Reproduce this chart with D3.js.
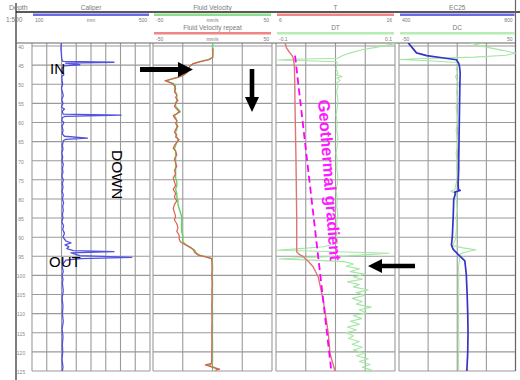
<!DOCTYPE html>
<html>
<head>
<meta charset="utf-8">
<script src="https://cdn.jsdelivr.net/npm/d3@7"></script>
<style>
  html, body { margin: 0; padding: 0; background: #fff; }
  svg { display: block; font-family: "Liberation Sans", Arial, Helvetica, sans-serif; }
</style>
</head>
<body>
<svg id="chart" width="520" height="380"></svg>
<script>
// ---- depth grid ----
const depthTicks = [40, 45, 50, 55, 60, 65, 70, 75, 80, 85, 90, 95, 100, 105, 110, 115, 120, 125];

// ---- header text ----
const titlesRow1 = ["Caliper", "Fluid Velocity", "T", "EC25"];
const titlesRow2 = ["", "Fluid Velocity repeat", "DT", "DC"];
const scaleRow1 = [["100", "mm", "500"], ["-50", "mm/s", "50"], ["6", "", "16"], ["400", "", "800"]];
const scaleRow2 = [null, ["-50", "mm/s", "50"], ["-0.1", "", "0.1"], ["-50", "", "50"]];

// ---- curves: [depth m, value] ----
const caliper = [
  [39.2,199],[40.8,198],[41.5,199],[42.5,200],[43.5,201],[44.0,205],[44.25,378],[44.5,214],[44.9,262],[45.2,208],
  [46,201],[47,203],[47.5,208],[48,201],[49,202],[50,204],[51,200],[52,203],[53,206],[54,201],[55,205],[56,200],
  [56.5,210],[57,203],[57.8,205],[58.1,402],[58.4,212],[58.7,203],[59.5,201],[60,208],[61,202],[62,205],[63,203],
  [63.6,210],[64.1,288],[64.4,214],[64.8,206],[66,203],[67,205],[68,201],[69,204],[70,202],[71,206],[72,203],
  [73,205],[74,201],[75,206],[76,203],[77,205],[78,202],[79,206],[80,203],[81,207],[82,204],[83,206],[84,203],
  [85,205],[86,201],[87,207],[88,204],[89,210],[90,205],[91,215],[91.5,232],[92,212],[92.5,225],[93,218],
  [93.5,240],[93.8,378],[94.1,232],[94.8,262],[95.3,438],[95.6,266],[96,215],[97,205],[98,203],[99,206],[100,202],
  [101,205],[102,203],[104,206],[106,202],[108,205],[110,203],[112,206],[114,202],[116,205],[118,203],[120,204],
  [122,202],[124,205],[125,203]
];

const fluidVelocity = [
  [39.2,0.2],[41,0],[42,0.3],[43,0.1],[43.6,-4],[44.1,-11],[44.6,-16],[45.2,-19],[46,-20],[46.8,-22],[47.6,-25],
  [48.2,-30],[48.7,-35],[49.1,-39],[49.4,-37],[49.8,-33],[50.4,-31],[51.2,-32],[52,-31],[52.8,-30],[53.5,-30],
  [54.2,-30],[55,-31],[55.8,-31],[56.5,-29],[57.2,-27],[57.7,-30],[58.2,-32],[58.8,-31],[59.5,-30],[60.3,-30],
  [61,-30],[61.8,-30],[62.5,-31],[63.2,-31],[63.8,-30],[64.5,-29],[65.2,-30],[66,-31],[66.8,-32],[67.5,-31],
  [68.5,-31],[69.5,-31],[70.5,-31],[71.5,-31],[72.5,-31],[73.5,-31],[74.5,-31],[75.5,-30],[76.5,-30],[77.5,-31],
  [78.5,-30],[79.5,-30],[80.5,-29],[81.5,-29],[82.5,-28],[83.5,-27],[84.5,-26],[85.5,-26],[86.5,-26],[87.5,-26],
  [88.5,-26],[89.5,-25],[90.5,-25],[91.2,-25],[92,-22],[92.8,-18],[93.4,-15],[94,-14],[94.7,-11],[95.2,-4],
  [95.6,-0.5],[96.2,-0.2],[98,0],[100,-0.2],[102,0],[104,-0.1],[106,0],[108,-0.2],[110,0],[112,-0.1],[114,0],
  [116,-0.2],[118,0],[120,-0.1],[122,0],[123,-0.2],[123.5,-3],[124,1],[124.5,4],[125,2]
];

const fluidVelocityRepeat = [
  [40.6,0.5],[42,0.3],[43,0.2],[43.6,-3],[44.1,-10],[44.6,-16],[45.2,-19],[46,-20],[46.8,-21],[47.6,-24],[48.2,-29],
  [48.7,-35],[49.1,-40],[49.4,-37],[49.8,-34],[50.4,-32],[51.2,-31],[52,-32],[52.8,-30],[53.5,-31],[54.2,-29],
  [55,-31],[55.8,-32],[56.5,-30],[57.2,-28],[57.7,-30],[58.2,-33],[58.8,-32],[59.5,-30],[60.3,-31],[61,-29],
  [61.8,-31],[62.5,-32],[63.2,-30],[63.8,-31],[64.5,-28],[65.2,-30],[66,-32],[66.8,-33],[67.5,-31],[68.5,-30],
  [69.5,-32],[70.5,-31],[71.5,-30],[72.5,-32],[73.5,-31],[74.5,-33],[75.5,-32],[76.5,-31],[77.5,-33],[78.5,-31],
  [79.5,-32],[80.5,-30],[81.5,-32],[82.5,-33],[83.5,-32],[84.5,-31],[85.5,-32],[86.5,-30],[87.5,-29],[88.5,-30],
  [89.5,-28],[90.5,-28],[91.2,-27],[92,-23],[92.8,-18],[93.4,-16],[94,-15],[94.7,-12],[95.2,-5],[95.6,-1],
  [96.2,-0.5],[98,-0.4],[100,-0.6],[102,-0.3],[104,-0.5],[106,-0.4],[108,-0.6],[110,-0.5],[112,-0.4],[114,-0.6],
  [116,-0.5],[118,-0.5],[120,-0.6],[122,-0.7],[123,-0.8],[123.4,-6],[123.8,-2],[124.1,1],[124.5,6],[124.8,3]
];

const temperature = [
  [39.2,6.76],[40.5,6.88],[41.5,7.1],[42.5,7.35],[43.2,7.45],[45,7.54],[50,7.58],[55.9,7.6],[70,7.68],[84.7,7.74],
  [93.8,7.74],[94.5,7.95],[95.1,8.29],[96.5,8.77],[97.8,9.13],[100.4,9.55],[106.5,9.97],[115.2,10.4],[120.5,10.54],
  [125,10.96]
];

const geothermalGradient = [[42.5,7.6],[125,10.65]];

const dt = [
  [39.2,0.105],[40.3,0.07],[41,0.045],[41.8,0.025],[42.5,0.012],[43.2,0.004],[43.45,-0.07],[43.65,-0.097],
  [43.85,-0.05],[44.1,0.002],[45,0.003],[46,0.001],[47,0.004],[47.6,0.001],[48,0.011],[48.4,0.002],[49,0.008],
  [49.6,0.002],[50.5,0.004],[52,0.002],[54,0.004],[56,0.003],[58,0.001],[60,0.003],[62,0.002],[64,0.004],
  [66,0.003],[68,0.001],[70,0.003],[72,0.002],[74,0.004],[76,0.003],[78,0.001],[80,0.003],[82,0.002],[84,0.004],
  [86,0.002],[88,0.003],[90,0.002],[91.5,0.004],[92.5,-0.02],[93,-0.06],[93.4,-0.098],[93.7,-0.03],[94.0,0.05],
  [94.2,0.09],[94.5,0.06],[94.9,0.02],[95.3,-0.05],[95.7,-0.095],[96.0,-0.04],[96.4,0.015],[97,0.03],[97.6,0.018],
  [98.3,0.04],[99,0.025],[99.7,0.05],[100.4,0.03],[101,0.045],[101.7,0.02],[102.4,0.04],[103,0.03],[103.8,0.055],
  [104.5,0.035],[105.2,0.05],[106,0.028],[106.8,0.045],[107.5,0.035],[108.3,0.06],[109,0.04],[109.8,0.052],
  [110.5,0.03],[111.3,0.044],[112,0.025],[112.8,0.04],[113.5,0.02],[114.3,0.035],[115,0.018],[115.8,0.03],
  [116.5,0.022],[117.3,0.04],[118,0.028],[118.8,0.045],[119.5,0.03],[120.3,0.05],[121,0.035],[121.8,0.055],
  [122.5,0.04],[123.3,0.058],[124,0.045],[124.7,0.06],[125,0.05]
];

const ec25 = [
  [39.2,432],[40.5,446],[41.8,460],[42.5,495],[43.2,560],[43.6,597],[44.5,605],[45.5,608],[47,610],[50,609],
  [55,608],[60,607],[65,606],[70,605],[72,605],[76,603],[77.5,604],[77.8,610],[78.2,591],[78.6,594],[80,588],
  [85,586],[90,583],[92,580],[93.2,586],[94.5,603],[96.2,626],[99.7,631],[105,634],[110,636],[115,637],[120,636],
  [125,633]
];

const dc = [
  [39.2,11],[40.3,25],[41.2,40],[41.9,50],[42.4,42],[42.9,15],[43.25,-30],[43.55,-49],[43.85,-25],[44.3,0],[45,1],
  [46,-1],[47,0.5],[48,-1.5],[49,0],[50,1],[52,-0.5],[54,0.5],[56,-1],[58,0],[60,0.5],[62,-1],[64,0],[66,0.5],
  [68,-1],[70,0],[72,-0.5],[74,0.5],[76,-1],[77.5,-2],[78,-5.5],[78.5,-2],[79,-1],[81,-0.5],[83,0],[85,-1],
  [87,-0.5],[89,-1],[90.5,-1.5],[91.5,-3],[92.2,-4],[92.8,5],[93.3,16],[93.7,10],[94.3,3],[95,1.5],[96,2],[98,1],
  [100,1.5],[102,1],[104,1.5],[106,1],[108,1.2],[110,1],[112,1.3],[114,1],[116,1.2],[118,1.5],[120,1.2],[122,1],
  [124,1.3],[125,1.2]
];

// ---- layout ----
const svg = d3.select("#chart");
const trackTop = 43;
const y = d3.scaleLinear().domain([40, 125]).range([46, 371]);
const gridBottom = y(125);

const tracks = [
  { x0: 32,  x1: 150,   div: 8 },
  { x0: 153, x1: 272,   div: 4 },
  { x0: 276, x1: 395,   div: 4 },
  { x0: 399, x1: 515.5, div: 4 }
];

const calX = d3.scaleLinear().domain([100, 500]).range([tracks[0].x0, tracks[0].x1]);
const fvX  = d3.scaleLinear().domain([-50, 50]).range([tracks[1].x0, tracks[1].x1]);
const tX   = d3.scaleLinear().domain([6, 16]).range([tracks[2].x0, tracks[2].x1]);
const dtX  = d3.scaleLinear().domain([-0.1, 0.1]).range([tracks[2].x0, tracks[2].x1]);
const ecX  = d3.scaleLinear().domain([400, 800]).range([tracks[3].x0, tracks[3].x1]);
const dcX  = d3.scaleLinear().domain([-50, 50]).range([tracks[3].x0, tracks[3].x1]);

const headerColors1 = ["#6b6be6", "#8ede8e", "#ef8585", "#6b6be6"];
const headerColors2 = [null, "#ef8585", "#b4eeb4", "#b4eeb4"];

// ---- grid ----
const grid = svg.append("g").attr("stroke", "#9a9a9a").attr("stroke-width", 1.1);
tracks.forEach(t => {
  depthTicks.forEach(d => {
    grid.append("line").attr("x1", t.x0).attr("x2", t.x1).attr("y1", y(d)).attr("y2", y(d));
  });
  d3.range(t.div + 1).forEach(i => {
    const x = t.x0 + i * (t.x1 - t.x0) / t.div;
    grid.append("line").attr("x1", x).attr("x2", x).attr("y1", trackTop).attr("y2", gridBottom);
  });
});

// depth labels
svg.append("g").selectAll("text").data(depthTicks).join("text")
  .attr("x", 21).attr("y", d => y(d) + 2.8)
  .attr("text-anchor", "middle").attr("font-size", 5).attr("fill", "#8a8a8a")
  .text(d => d);

// frame lines
svg.append("line").attr("x1", 16).attr("x2", 16).attr("y1", 3).attr("y2", 380)
  .attr("stroke", "#555").attr("stroke-width", 1.5);
svg.append("line").attr("x1", 16).attr("x2", 520).attr("y1", 12).attr("y2", 12)
  .attr("stroke", "#222").attr("stroke-width", 1.3);
svg.append("line").attr("x1", 16).attr("x2", 516).attr("y1", trackTop).attr("y2", trackTop)
  .attr("stroke", "#666").attr("stroke-width", 1.2);
svg.append("line").attr("x1", 515.5).attr("x2", 515.5).attr("y1", 0).attr("y2", gridBottom)
  .attr("stroke", "#666").attr("stroke-width", 1.2);

// ---- header ----
const head = svg.append("g").attr("fill", "#7a7a7a");
head.append("text").attr("x", 9).attr("y", 10).attr("font-size", 7).text("Depth");
head.append("text").attr("x", 6).attr("y", 21.5).attr("font-size", 6.5).text("1:500");

function headerRow(titles, scales, colors, titleY, barY, scaleY) {
  tracks.forEach((t, i) => {
    const cx = (t.x0 + t.x1) / 2;
    if (titles[i]) {
      head.append("text").attr("x", cx).attr("y", titleY).attr("text-anchor", "middle")
        .attr("font-size", 6.5).text(titles[i]);
    }
    if (colors[i]) {
      svg.append("line").attr("x1", t.x0 + 1).attr("x2", t.x1 - 1).attr("y1", barY).attr("y2", barY)
        .attr("stroke", colors[i]).attr("stroke-width", 2.4);
    }
    const s = scales[i];
    if (s) {
      head.append("text").attr("x", t.x0 + 3).attr("y", scaleY).attr("font-size", 5).text(s[0]);
      if (s[1]) head.append("text").attr("x", cx).attr("y", scaleY).attr("text-anchor", "middle").attr("font-size", 5).text(s[1]);
      head.append("text").attr("x", t.x1 - 3).attr("y", scaleY).attr("text-anchor", "end").attr("font-size", 5).text(s[2]);
    }
  });
}
headerRow(titlesRow1, scaleRow1, headerColors1, 10, 14.8, 21.5);
headerRow(titlesRow2, scaleRow2, headerColors2, 30, 33.3, 41);

// ---- curves ----
const defs = svg.append("defs");
tracks.forEach((t, i) => {
  defs.append("clipPath").attr("id", "clip" + i).append("rect")
    .attr("x", t.x0 - 0.5).attr("y", trackTop).attr("width", t.x1 - t.x0 + 1).attr("height", gridBottom - trackTop + 1);
});

function curve(data, xs, clipIdx, color, width, dash) {
  const line = d3.line().x(d => xs(d[1])).y(d => y(d[0]));
  const p = svg.append("path").datum(data)
    .attr("d", line).attr("fill", "none")
    .attr("stroke", color).attr("stroke-width", width)
    .attr("stroke-linejoin", "round")
    .attr("clip-path", `url(#clip${clipIdx})`);
  if (dash) p.attr("stroke-dasharray", dash);
  return p;
}

curve(caliper, calX, 0, "#5252e0", 1.3);
curve(fluidVelocity, fvX, 1, "#66d266", 1.4);
curve(fluidVelocityRepeat, fvX, 1, "#dc5f50", 1.2);
curve(dt, dtX, 2, "#a4e6a4", 1.1);
curve(temperature, tX, 2, "#e07474", 1.4);
curve(geothermalGradient, tX, 2, "#ff00ff", 1.8, "7,4");
curve(dc, dcX, 3, "#a4e6a4", 1.1);
curve(ec25, ecX, 3, "#3434c8", 1.7);

// ---- annotations ----
function arrow(x1, y1, x2, y2, shaftHalf, headLen, headHalf) {
  const dx = x2 - x1, dy = y2 - y1, len = Math.hypot(dx, dy);
  const ux = dx / len, uy = dy / len, px = -uy, py = ux;
  const bx = x2 - ux * headLen, by = y2 - uy * headLen;
  const pts = [
    [x1 + px * shaftHalf, y1 + py * shaftHalf],
    [bx + px * shaftHalf, by + py * shaftHalf],
    [bx + px * headHalf, by + py * headHalf],
    [x2, y2],
    [bx - px * headHalf, by - py * headHalf],
    [bx - px * shaftHalf, by - py * shaftHalf],
    [x1 - px * shaftHalf, y1 - py * shaftHalf]
  ];
  svg.append("polygon").attr("points", pts.map(p => p.join(",")).join(" ")).attr("fill", "#000");
}
arrow(140, 69.5, 193, 69.5, 2.6, 15, 7.5);
arrow(252, 69, 252, 112, 2.3, 15, 7);
arrow(415, 266, 368, 266, 2.3, 14, 7);

const ann = svg.append("g").attr("fill", "#000");
ann.append("text").attr("x", 50).attr("y", 73.5).attr("font-size", 15).text("IN");
ann.append("text").attr("x", 49).attr("y", 267).attr("font-size", 15).text("OUT");
ann.append("text").attr("transform", "translate(112,150) rotate(90)").attr("font-size", 15.5).text("DOWN");
// label slanted along the dashed gradient line
svg.append("text").attr("transform", "translate(318,100) rotate(85.8)")
  .attr("font-size", 16.5).attr("font-weight", "bold").attr("fill", "#ff1aff")
  .text("Geothermal gradient");
</script>
</body>
</html>
